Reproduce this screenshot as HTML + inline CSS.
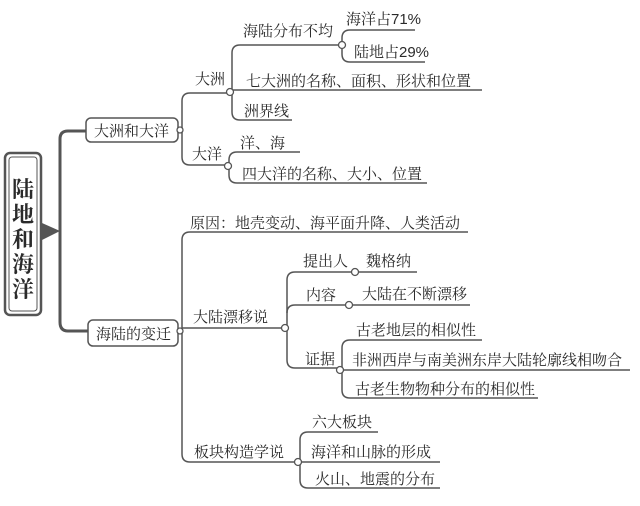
<!DOCTYPE html>
<html><head><meta charset="utf-8"><style>
html,body{margin:0;padding:0;background:#fff;}
svg{display:block;}
text{font-family:"Liberation Sans","Noto Serif CJK SC","Noto Sans CJK SC",serif;fill:#2a2a2a;font-size:15px;}
</style></head><body>
<svg width="640" height="506" viewBox="0 0 640 506" xmlns="http://www.w3.org/2000/svg">
<g fill="none" stroke="#555" stroke-width="1.5">
<rect x="5" y="153" width="36" height="162" rx="5" stroke-width="2.5"/>
<rect x="9" y="157" width="28" height="154" rx="3" stroke-width="1"/>
<path d="M86 131 H68 Q60 131 60 139 V322 Q60 331 68 331 H88" stroke-width="3"/>
<rect x="86" y="118" width="92" height="24" rx="5" stroke-width="1.5"/>
<path d="M178 130 H182 M190 93 Q182 93 182 101 V157 Q182 165 190 165 H227"/>
<path d="M190 93 H229"/>
<path d="M340 45 H240 Q232 45 232 53 V112 Q232 120 240 120 H292"/>
<path d="M232 90 H482"/>
<path d="M415 30 H350 Q342 30 342 38 V54 Q342 62 350 62 H425"/>
<path d="M300 152 H237 Q229 152 229 160 V175 Q229 183 237 183 H427"/>
<path d="M468 232 H190 Q182 232 182 240 V454 Q182 462 190 462 H296"/>
<rect x="88" y="320" width="90" height="26" rx="5"/>
<path d="M178 330 H182 M182 328 H283"/>
<path d="M417 272 H295 Q287 272 287 280 V360 Q287 368 295 368 H339"/>
<path d="M287 313 Q287 305 295 305 H470"/>
<path d="M482 340 H350 Q342 340 342 348 V390 Q342 398 350 398 H538"/>
<path d="M342 370 H630"/>
<path d="M378 432 H308 Q300 432 300 440 V480 Q300 488 308 488 H440"/>
<path d="M300 462 H440"/>
</g>
<polygon points="42,223 60,231 42,240" fill="#555"/>
<g fill="#fff" stroke="#555" stroke-width="1.3">
<circle cx="230" cy="92" r="3.5"/>
<circle cx="342" cy="45" r="3.5"/>
<circle cx="228" cy="166" r="3.5"/>
<circle cx="180" cy="331" r="3"/>
<circle cx="180" cy="130" r="3"/>
<circle cx="285" cy="328" r="3.5"/>
<circle cx="355" cy="272" r="3.5"/>
<circle cx="349" cy="305" r="3.5"/>
<circle cx="340" cy="370" r="3.5"/>
<circle cx="298" cy="462" r="3.5"/>
</g>
<text x="12" y="197" style="font-size:22px;font-weight:bold">陆</text>
<text x="12" y="222" style="font-size:22px;font-weight:bold">地</text>
<text x="12" y="247" style="font-size:22px;font-weight:bold">和</text>
<text x="12" y="272" style="font-size:22px;font-weight:bold">海</text>
<text x="12" y="297" style="font-size:22px;font-weight:bold">洋</text>
<text x="94" y="136">大洲和大洋</text>
<text x="96" y="339">海陆的变迁</text>
<text x="195" y="84">大洲</text>
<text x="192" y="159">大洋</text>
<text x="243" y="36">海陆分布不均</text>
<text x="346" y="24">海洋占71%</text>
<text x="354" y="57">陆地占29%</text>
<text x="246" y="86">七大洲的名称、面积、形状和位置</text>
<text x="244" y="116">洲界线</text>
<text x="240" y="148">洋、海</text>
<text x="242" y="179">四大洋的名称、大小、位置</text>
<text x="190" y="228">原因：地壳变动、海平面升降、人类活动</text>
<text x="193" y="322">大陆漂移说</text>
<text x="303" y="266">提出人</text>
<text x="366" y="266">魏格纳</text>
<text x="306" y="300">内容</text>
<text x="362" y="299">大陆在不断漂移</text>
<text x="305" y="364">证据</text>
<text x="356" y="335">古老地层的相似性</text>
<text x="352" y="365">非洲西岸与南美洲东岸大陆轮廓线相吻合</text>
<text x="355" y="394">古老生物物种分布的相似性</text>
<text x="194" y="457">板块构造学说</text>
<text x="312" y="427">六大板块</text>
<text x="311" y="457">海洋和山脉的形成</text>
<text x="315" y="484">火山、地震的分布</text>
</svg>
</body></html>
